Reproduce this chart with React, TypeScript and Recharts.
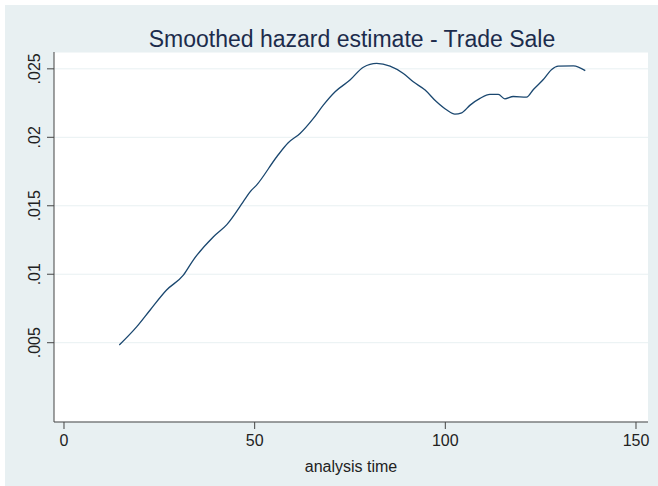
import { LineChart, Line, XAxis, YAxis, CartesianGrid } from "recharts";

// analysis time (x) and smoothed hazard (y)
const analysisTime = [
  14.5, 19.1, 22.6, 26.9, 31.3, 33.9, 39.2, 42.7, 47.5, 48.8, 50.5, 55.8, 58.8,
  61.9, 65.4, 68.0, 71.1, 75.0, 78.5, 82.0, 85.5, 89.0, 91.6, 94.7, 97.7, 100.4,
  102.5, 104.3, 106.5, 109.1, 111.7, 113.9, 115.6, 117.8, 121.3, 123.1, 125.7,
  127.9, 129.6, 133.6, 136.7,
];
const hazard = [
  0.00483, 0.00617, 0.00739, 0.00885, 0.00994, 0.01104, 0.01274, 0.01362,
  0.0155, 0.01602, 0.01651, 0.01858, 0.0196, 0.02028, 0.02138, 0.02235,
  0.02333, 0.02418, 0.02512, 0.0254, 0.0252, 0.02466, 0.02405, 0.02345,
  0.02259, 0.02199, 0.02169, 0.02179, 0.02235, 0.02284, 0.02313, 0.02313,
  0.02281, 0.02298, 0.02293, 0.02349, 0.02422, 0.02496, 0.0252, 0.02522,
  0.02487,
];
const xTicks = [0, 50, 100, 150];
const yTicks = [0.005, 0.01, 0.015, 0.02, 0.025];
const yTickLabels = [".005", ".01", ".015", ".02", ".025"];

const data = analysisTime.map((t, i) => ({ t, h: hazard[i] }));

const FONT = "'Liberation Sans', Arial, sans-serif";
const BG = "#E8F0F2";

const YTick = (props: any) => {
  const { x, y, payload } = props;
  const idx = yTicks.indexOf(payload.value);
  const label = idx >= 0 ? yTickLabels[idx] : String(payload.value);
  const bx = x - 2;
  return (
    <text
      x={bx}
      y={y}
      transform={`rotate(-90, ${bx}, ${y})`}
      textAnchor="middle"
      fontSize={16}
      fontFamily={FONT}
      fill="#222"
    >
      {label}
    </text>
  );
};

export default function App() {
  return (
    <div style={{ position: "relative", width: 658, height: 486, background: "#fff" }}>
      <style>{`body{margin:0}`}</style>
      <div style={{ position: "absolute", left: 5, top: 5, width: 653, height: 481, background: BG }}>
        <LineChart
          width={653}
          height={481}
          data={data}
          margin={{ top: 47, right: 10, bottom: 0, left: 0 }}
        >
          <CartesianGrid vertical={false} stroke={BG} strokeWidth={1} fill="#ffffff" />
          <XAxis
            dataKey="t"
            type="number"
            domain={[-2.62, 153.15]}
            allowDataOverflow
            ticks={xTicks}
            height={64}
            tickSize={7}
            tickMargin={6}
            stroke="#444"
            tick={{ fontSize: 16, fontFamily: FONT, fill: "#222" }}
            label={{
              value: "analysis time",
              position: "insideBottom",
              offset: 14,
              fontSize: 16,
              fontFamily: FONT,
              fill: "#222",
            }}
          />
          <YAxis
            type="number"
            domain={[-0.00079, 0.02623]}
            allowDataOverflow
            ticks={yTicks}
            width={49}
            tickSize={7}
            tickMargin={5}
            stroke="#444"
            tick={<YTick />}
          />
          <Line
            type="monotone"
            dataKey="h"
            stroke="#1A476F"
            strokeWidth={1.3}
            dot={false}
            isAnimationActive={false}
          />
        </LineChart>
      </div>
      <svg
        width={658}
        height={60}
        style={{ position: "absolute", left: 0, top: 0, pointerEvents: "none" }}
      >
        <text
          x={352}
          y={47}
          textAnchor="middle"
          fontSize={23}
          fontFamily={FONT}
          fill="#1C2C4C"
        >
          Smoothed hazard estimate - Trade Sale
        </text>
      </svg>
    </div>
  );
}
